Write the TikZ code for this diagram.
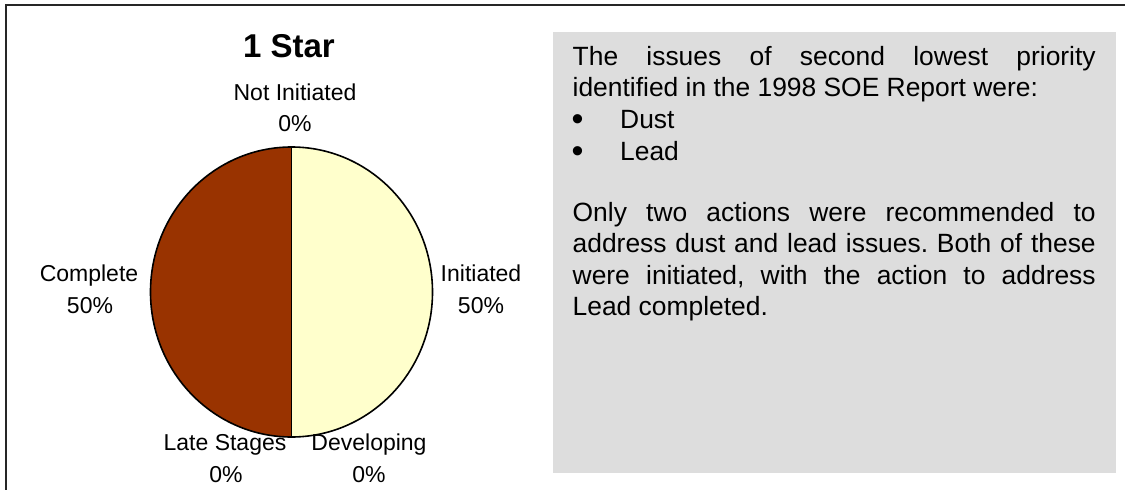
\documentclass[tikz,border=0pt]{standalone}
\usepackage{fontspec}
\setmainfont{Liberation Sans}
\usetikzlibrary{calc}
\frenchspacing
\definecolor{piebrown}{HTML}{993300}
\definecolor{pieyellow}{HTML}{FFFFCC}
\definecolor{boxgray}{HTML}{DDDDDD}
\tikzset{
  frameline/.style={line width=2pt, draw=black!85},
  pieline/.style={line width=1.6pt, draw=black},
  lbl/.style={anchor=base, inner sep=0pt, font=\fontsize{23}{28}\selectfont},
  ttl/.style={anchor=base, inner sep=0pt, font=\fontsize{33}{38}\selectfont\bfseries},
  body/.style={anchor=base west, inner sep=0pt, font=\fontsize{26.4}{31.3}\selectfont\frenchspacing},
  bul/.style={anchor=base west, inner sep=0pt, font=\fontsize{34}{34}\selectfont},
}
\begin{document}
\begin{tikzpicture}[x=1pt,y=-1pt]
\useasboundingbox (0,0) rectangle (1125,490);
\fill[white] (0,0) rectangle (1125,490);
% frame
\draw[frameline] (5.5,491) -- (5.5,4.5) -- (1126,4.5);
% text box
\fill[boxgray] (553,32) rectangle (1116,473);
% pie
\coordinate (c) at (291.5,292);
\coordinate (ptop) at (291.5,147);
\coordinate (pbot) at (291.5,437);
\fill[piebrown] (pbot) arc[start angle=90, end angle=270, x radius=141, y radius=145] -- cycle;
\fill[pieyellow] (ptop) arc[start angle=270, end angle=450, x radius=141, y radius=145] -- cycle;
\draw[pieline] (c) ellipse[x radius=141, y radius=145];
\draw[pieline] (ptop) -- (pbot);
% title and labels
\node[ttl] (title) at (289,57.7) {1 Star};
\node[lbl] (ni) at (295,100) {Not Initiated};
\node[lbl] (nip) at (295,131.7) {0\%};
\node[lbl] (co) at (89,281) {Complete};
\node[lbl] (cop) at (90,313) {50\%};
\node[lbl] (in) at (481,281) {Initiated};
\node[lbl] (inp) at (481,313) {50\%};
\node[lbl] (ls) at (225,450.7) {Late Stages};
\node[lbl] (lsp) at (226,482) {0\%};
\node[lbl] (dv) at (369,450.7) {Developing};
\node[lbl] (dvp) at (369,482) {0\%};
% body text
\node[body] (t1) at (572.5,65) {\makebox[523pt][s]{The issues of second lowest priority}};
\node[body] (t2) at (572.5,96.7) {identified in the 1998 SOE Report were:};
\node[bul] (b1) at (571.5,130.6) {\textbullet};
\node[body] (d1) at (620,128.3) {Dust};
\node[bul] (b2) at (571.5,162.3) {\textbullet};
\node[body] (d2) at (620,160) {Lead};
\node[body] (p1) at (572.5,221.7) {\makebox[523pt][s]{Only two actions were recommended to}};
\node[body] (p2) at (572.5,252.7) {\makebox[523pt][s]{address dust and lead issues. Both of these}};
\node[body] (p3) at (572.5,284) {\makebox[523pt][s]{were initiated, with the action to address}};
\node[body] (p4) at (572.5,315) {Lead completed.};
\end{tikzpicture}
\end{document}
